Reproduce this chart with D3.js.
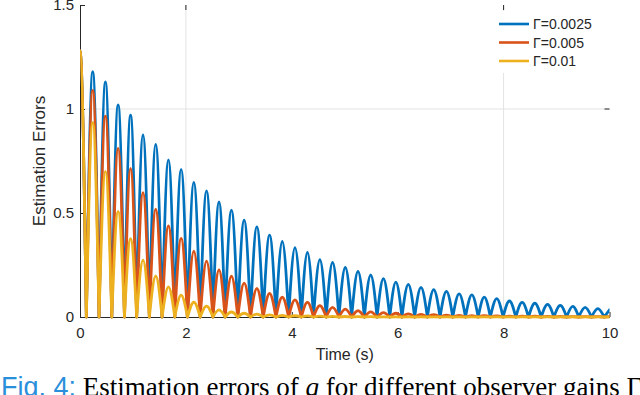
<!DOCTYPE html>
<html>
<head>
<meta charset="utf-8">
<script src="https://cdn.jsdelivr.net/npm/d3@7"></script>
<style>
  body { margin: 0; background: #fff; }
  svg { display: block; }
  text { font-family: "Liberation Sans", Arial, sans-serif; }
</style>
</head>
<body>
<div id="chart"></div>
<script>

// values
var seriesNames = ["\u0393=0.0025", "\u0393=0.005", "\u0393=0.01"];
var seriesColors = ["#0072BD", "#D95319", "#EDB120"];

// times (s) where the curves touch zero (the cusps)
var cuspTimes = [0.12, 0.36, 0.60, 0.84, 1.07, 1.31, 1.55, 1.79, 2.03, 2.27,
  2.51, 2.74, 2.98, 3.22, 3.46, 3.70, 3.94, 4.18, 4.41, 4.65,
  4.89, 5.13, 5.37, 5.61, 5.85, 6.08, 6.32, 6.56, 6.80, 7.04,
  7.28, 7.52, 7.75, 7.99, 8.23, 8.47, 8.71, 8.95, 9.19, 9.42,
  9.66, 9.90];

// height of each hump (first one is at t = 0)
var peaksBlue = [1.28, 1.18, 1.13, 1.02, 0.97, 0.875, 0.83, 0.755, 0.71, 0.647,
  0.606, 0.553, 0.514, 0.466, 0.433, 0.394, 0.363, 0.334, 0.310, 0.276,
  0.262, 0.238, 0.219, 0.202, 0.184, 0.168, 0.157, 0.142, 0.132, 0.123,
  0.111, 0.106, 0.096, 0.088, 0.077, 0.070, 0.066, 0.061, 0.056, 0.051,
  0.046, 0.040];
var peaksRed = [1.28, 1.09, 0.966, 0.81, 0.715, 0.598, 0.518, 0.438, 0.378, 0.316,
  0.269, 0.227, 0.196, 0.163, 0.137, 0.113, 0.095, 0.082, 0.070, 0.055,
  0.046, 0.038, 0.030, 0.025, 0.021, 0.018, 0.015, 0.013, 0.011, 0.009,
  0.008, 0.007, 0.006, 0.005, 0.0045, 0.004, 0.0035, 0.003, 0.0025, 0.002,
  0.002, 0.0015];
var peaksYellow = [1.28, 0.934, 0.70, 0.508, 0.377, 0.273, 0.197, 0.145, 0.105, 0.071,
  0.052, 0.034, 0.024, 0.018, 0.014, 0.010, 0.008, 0.006, 0.005, 0.004,
  0.003, 0.0025, 0.002, 0.0015, 0.001, 0.001, 0.001, 0.001, 0.001, 0.001,
  0.001, 0.001, 0.001, 0.001, 0.001, 0.001, 0.001, 0.001, 0.001, 0.001,
  0.001, 0.001];
// value reached at t = 10
var endValues = [0.035, 0.0015, 0.001];

var xTicks = [0, 2, 4, 6, 8, 10];
var yTicks = [0, 0.5, 1, 1.5];
var gridX = [2, 8];
var gridY = [1];


var width = 640, height = 395;
var x = d3.scaleLinear().domain([0, 10]).range([80, 609.5]);
var y = d3.scaleLinear().domain([0, 1.5]).range([317, 5]);
var ink = "#262626";

var svg = d3.select("#chart").append("svg")
  .attr("width", width)
  .attr("height", height);

svg.append("defs").append("clipPath")
  .attr("id", "plotclip")
  .append("rect")
  .attr("x", x(0)).attr("y", 0)
  .attr("width", x(10) - x(0)).attr("height", y(0) + 6);

// grid lines
svg.append("g").selectAll("line")
  .data(gridX).enter().append("line")
  .attr("x1", function(d) { return x(d); })
  .attr("x2", function(d) { return x(d); })
  .attr("y1", y(1.5)).attr("y2", y(0))
  .attr("stroke", "#e3e3e3").attr("stroke-width", 1);

svg.append("g").selectAll("line")
  .data(gridY).enter().append("line")
  .attr("x1", x(0)).attr("x2", x(10))
  .attr("y1", function(d) { return y(d); })
  .attr("y2", function(d) { return y(d); })
  .attr("stroke", "#e3e3e3").attr("stroke-width", 1);

// small ticks at the top and right end of the grid lines
svg.append("g").selectAll("line")
  .data(gridX).enter().append("line")
  .attr("x1", function(d) { return x(d); })
  .attr("x2", function(d) { return x(d); })
  .attr("y1", y(1.5)).attr("y2", y(1.5) + 5)
  .attr("stroke", ink);
svg.append("g").selectAll("line")
  .data(gridY).enter().append("line")
  .attr("x1", x(10) - 5).attr("x2", x(10))
  .attr("y1", function(d) { return y(d); })
  .attr("y2", function(d) { return y(d); })
  .attr("stroke", ink);

// axes
var xAxis = d3.axisBottom(x)
  .tickValues(xTicks)
  .tickSizeInner(-5)
  .tickSizeOuter(0)
  .tickPadding(10)
  .tickFormat(function(d) { return d; });

var yAxis = d3.axisLeft(y)
  .tickValues(yTicks)
  .tickSizeInner(-5)
  .tickSizeOuter(0)
  .tickPadding(6)
  .tickFormat(function(d) { return d; });

var gx = svg.append("g")
  .attr("transform", "translate(0," + y(0) + ")")
  .call(xAxis);
var gy = svg.append("g")
  .attr("transform", "translate(" + x(0) + ",0)")
  .call(yAxis);

[gx, gy].forEach(function(g) {
  g.select(".domain").attr("stroke", ink).attr("stroke-width", 1);
  g.selectAll(".tick line").attr("stroke", ink);
  g.selectAll(".tick text")
    .attr("fill", ink)
    .style("font-size", "15px")
    .style("font-family", "'Liberation Sans', Arial, sans-serif");
});

svg.append("text")
  .attr("x", (x(0) + x(10)) / 2)
  .attr("y", 360)
  .attr("text-anchor", "middle")
  .attr("fill", ink)
  .style("font-size", "16px")
  .text("Time (s)");

svg.append("text")
  .attr("transform", "translate(45," + (y(0) + y(1.5)) / 2 + ") rotate(-90)")
  .attr("text-anchor", "middle")
  .attr("fill", ink)
  .style("font-size", "17px")
  .text("Estimation Errors");

// curves: one hump between each pair of cusps
var line = d3.line()
  .x(function(d) { return x(d[0]); })
  .y(function(d) { return y(d[1]); })
  .curve(d3.curveNatural);

function humps(peaks, endVal) {
  var segs = [];
  segs.push([[-cuspTimes[0], 0], [0, peaks[0]], [cuspTimes[0], 0]]);
  for (var k = 1; k < peaks.length; k++) {
    var a = cuspTimes[k - 1], b = cuspTimes[k];
    segs.push([[a, 0], [(a + b) / 2, peaks[k]], [b, 0]]);
  }
  segs.push([[cuspTimes[cuspTimes.length - 1], 0], [10, endVal]]);
  return segs.map(function(s) { return line(s); }).join("");
}

var allPeaks = [peaksBlue, peaksRed, peaksYellow];

svg.append("g")
  .attr("clip-path", "url(#plotclip)")
  .selectAll("path")
  .data(allPeaks).enter().append("path")
  .attr("d", function(d, i) { return humps(d, endValues[i]); })
  .attr("fill", "none")
  .attr("stroke", function(d, i) { return seriesColors[i]; })
  .attr("stroke-width", 2.8)
  .attr("stroke-linejoin", "round")
  .attr("stroke-linecap", "round");

// legend
var legend = svg.append("g");
legend.append("rect")
  .attr("x", 490).attr("y", 11)
  .attr("width", 132).attr("height", 62)
  .attr("fill", "#fff");

var rows = legend.selectAll("g.row")
  .data(seriesNames).enter().append("g")
  .attr("class", "row")
  .attr("transform", function(d, i) { return "translate(0," + (24 + i * 18.5) + ")"; });

rows.append("line")
  .attr("x1", 499).attr("x2", 529)
  .attr("y1", 0).attr("y2", 0)
  .attr("stroke", function(d, i) { return seriesColors[i]; })
  .attr("stroke-width", 2.6);

rows.append("text")
  .attr("x", 533).attr("y", 5)
  .attr("fill", ink)
  .style("font-size", "14px")
  .text(function(d) { return d; });

// caption under the figure (cut off by the image edge)
var cap = svg.append("text")
  .attr("x", 1).attr("y", 396)
  .style("font-size", "27px")
  .style("font-family", "'Liberation Serif', 'Times New Roman', serif")
  .attr("fill", "#000");
cap.append("tspan")
  .attr("fill", "#2a8fdb")
  .style("font-family", "'Liberation Sans', Arial, sans-serif")
  .text("Fig. 4:");
cap.append("tspan").text(" Estimation errors of ");
cap.append("tspan").style("font-style", "italic").text("q");
cap.append("tspan").text(" for different observer gains \u0393");

</script>
</body>
</html>
